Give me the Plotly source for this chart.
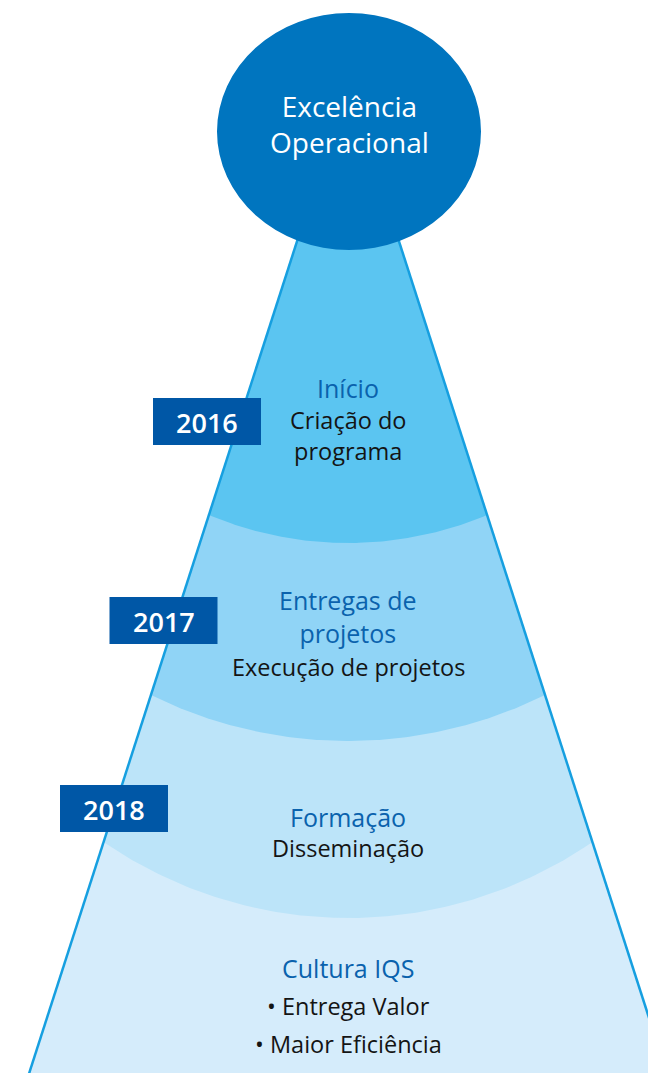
import numpy as np
import plotly.graph_objects as go

# ---- content ----
title_lines = ["Excelência", "Operacional"]
years = ["2016", "2017", "2018"]
headings = [["Início"], ["Entregas de", "projetos"], ["Formação"], ["Cultura IQS"]]
details = [["Criação do", "programa"], ["Execução de projetos"], ["Disseminação"],
           ["• Entrega Valor", "• Maior Eficiência"]]

# ---- layout / geometry (pixel space) ----
W, H = 656, 1073
PAD = 8               # browser body margin
cx = 348.0            # axis of the cone
apex_y = 83.0         # apex of cone (hidden behind circle)
slope = 0.322         # half-width growth per px
bottom_y = 1120.0
edge_y = [515, 695, 842]       # where band boundaries meet the cone edge
sag_y = [543, 741, 918]        # lowest point of each boundary arc
band_colors = ["#5BC5F1", "#90D4F6", "#BCE4F9", "#D5ECFB"]
edge_color = "#169FE0"
circle_color = "#0075BF"
box_color = "#0057A6"
head_color = "#0A62AD"
text_color = "#141414"
FONT = "Open Sans"

circle_c = (349, 131.5)
circle_r = (132, 118.5)
box_centers = [(207, 421.5), (163.5, 620.5), (114, 808.5)]
box_w, box_h = 108, 47
head_y = [388, 616, 817, 968]          # block centres
det_y = [435.5, 667, 848, None]
bullet_y = [1006, 1044]

fig = go.Figure()

def half_w(y):
    return slope * (y - apex_y)

# full cone in the lowest band colour
hb = half_w(bottom_y)
fig.add_trace(go.Scatter(x=[cx, cx - hb, cx + hb, cx], y=[apex_y, bottom_y, bottom_y, apex_y],
                         fill="toself", fillcolor=band_colors[3], mode="lines",
                         line=dict(width=0), hoverinfo="skip", showlegend=False))

# regions above each boundary, drawn from bottom to top
for k in [2, 1, 0]:
    ye, yc = edge_y[k], sag_y[k]
    h = half_w(ye)
    d = yc - ye
    R = (h * h + d * d) / (2 * d)
    ccy = yc - R
    xs = np.linspace(cx - h, cx + h, 120)
    ys = ccy + np.sqrt(np.maximum(R * R - (xs - cx) ** 2, 0))
    px = np.concatenate([[cx], xs, [cx]])
    py = np.concatenate([[apex_y], ys, [apex_y]])
    fig.add_trace(go.Scatter(x=px, y=py, fill="toself", fillcolor=band_colors[k], mode="lines",
                             line=dict(width=0), hoverinfo="skip", showlegend=False))

# cone outline
for sgn in (-1, 1):
    fig.add_trace(go.Scatter(x=[cx, cx + sgn * hb], y=[apex_y, bottom_y], mode="lines",
                             line=dict(color=edge_color, width=2.5), hoverinfo="skip",
                             showlegend=False))

shapes = [dict(type="circle", xref="x", yref="y",
               x0=circle_c[0] - circle_r[0], x1=circle_c[0] + circle_r[0],
               y0=circle_c[1] - circle_r[1], y1=circle_c[1] + circle_r[1],
               fillcolor=circle_color, line=dict(width=0), layer="above")]
annotations = []
for (bx, by), yr in zip(box_centers, years):
    shapes.append(dict(type="rect", xref="x", yref="y", x0=bx - box_w / 2, x1=bx + box_w / 2,
                       y0=by - box_h / 2, y1=by + box_h / 2, fillcolor=box_color,
                       line=dict(width=0), layer="above"))
    annotations.append(dict(x=bx, y=by + 1, text=yr, showarrow=False,
                            xref="x", yref="y",
                            font=dict(family=FONT, size=27, color="white", weight=600)))

annotations.append(dict(x=circle_c[0], y=123.5, text="<br>".join(title_lines), showarrow=False,
                        xref="x", yref="y",
                        font=dict(family=FONT, size=28, color="white")))

for hs, hy in zip(headings, head_y):
    annotations.append(dict(x=cx, y=hy, text="<br>".join(hs), showarrow=False, xref="x", yref="y",
                            font=dict(family=FONT, size=25, color=head_color)))
for ds, dy in zip(details[:3], det_y[:3]):
    annotations.append(dict(x=cx, y=dy, text="<br>".join(ds), showarrow=False, xref="x", yref="y",
                            font=dict(family=FONT, size=23.5, color=text_color)))
for t, y in zip(details[3], bullet_y):
    annotations.append(dict(x=cx, y=y, text=t, showarrow=False, xref="x", yref="y",
                            font=dict(family=FONT, size=23.5, color=text_color)))

fig.update_layout(
    width=W - PAD, height=H - PAD, margin=dict(l=0, r=0, t=0, b=0),
    paper_bgcolor="white", plot_bgcolor="white",
    xaxis=dict(range=[PAD, W], visible=False, fixedrange=True),
    yaxis=dict(range=[H, PAD], visible=False, fixedrange=True),
    shapes=shapes, annotations=annotations, showlegend=False,
)
fig.write_html("out.html")
